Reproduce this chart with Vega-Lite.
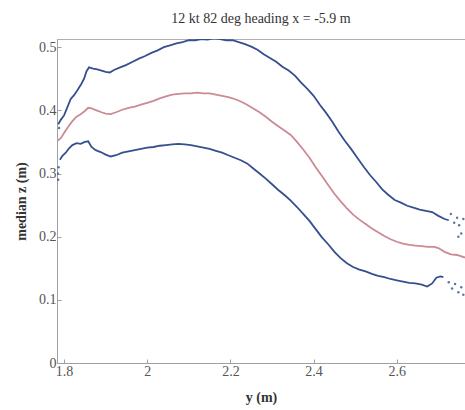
{
  "$schema": "https://vega.github.io/schema/vega-lite/v6.json",
  "autosize": {"type": "none"},
  "padding": {"left": 57, "top": 39, "right": 0, "bottom": 47},
  "width": 408,
  "height": 324,
  "background": "white",
  "config": {
    "view": {"stroke": "#b0b0b0", "strokeWidth": 1},
    "font": "Liberation Serif",
    "axis": {"grid": false, "domainColor": "#a0a0a0", "tickColor": "#a0a0a0", "tickSize": -4, "labelColor": "#555555", "labelFont": "Liberation Serif", "labelFontSize": 14, "titleFont": "Liberation Serif", "titleFontSize": 14, "titleFontWeight": "bold", "titleColor": "#333333"}
  },
  "title": {"text": "12 kt 82 deg heading x = -5.9 m", "font": "Liberation Serif", "fontSize": 14, "fontWeight": "normal", "color": "#333333", "offset": 13},
  "datasets": {
    "lines": [
      {"y": 1.786, "z": 0.378, "s": "upper"}, {"y": 1.792, "z": 0.385, "s": "upper"}, {"y": 1.8, "z": 0.392, "s": "upper"}, {"y": 1.808, "z": 0.405, "s": "upper"}, {"y": 1.816, "z": 0.418, "s": "upper"}, {"y": 1.824, "z": 0.424, "s": "upper"}, {"y": 1.832, "z": 0.432, "s": "upper"}, {"y": 1.84, "z": 0.44, "s": "upper"}, {"y": 1.848, "z": 0.45, "s": "upper"}, {"y": 1.854, "z": 0.462, "s": "upper"}, {"y": 1.86, "z": 0.468, "s": "upper"}, {"y": 1.87, "z": 0.466, "s": "upper"}, {"y": 1.88, "z": 0.465, "s": "upper"}, {"y": 1.89, "z": 0.463, "s": "upper"}, {"y": 1.9, "z": 0.461, "s": "upper"}, {"y": 1.91, "z": 0.46, "s": "upper"}, {"y": 1.92, "z": 0.464, "s": "upper"}, {"y": 1.935, "z": 0.468, "s": "upper"}, {"y": 1.95, "z": 0.472, "s": "upper"}, {"y": 1.965, "z": 0.477, "s": "upper"}, {"y": 1.98, "z": 0.482, "s": "upper"}, {"y": 1.995, "z": 0.486, "s": "upper"}, {"y": 2.01, "z": 0.491, "s": "upper"}, {"y": 2.025, "z": 0.495, "s": "upper"}, {"y": 2.04, "z": 0.5, "s": "upper"}, {"y": 2.055, "z": 0.503, "s": "upper"}, {"y": 2.07, "z": 0.506, "s": "upper"}, {"y": 2.085, "z": 0.508, "s": "upper"}, {"y": 2.1, "z": 0.511, "s": "upper"}, {"y": 2.115, "z": 0.511, "s": "upper"}, {"y": 2.13, "z": 0.513, "s": "upper"}, {"y": 2.145, "z": 0.512, "s": "upper"}, {"y": 2.16, "z": 0.514, "s": "upper"}, {"y": 2.175, "z": 0.513, "s": "upper"}, {"y": 2.19, "z": 0.511, "s": "upper"}, {"y": 2.205, "z": 0.511, "s": "upper"}, {"y": 2.22, "z": 0.508, "s": "upper"}, {"y": 2.235, "z": 0.505, "s": "upper"}, {"y": 2.25, "z": 0.501, "s": "upper"}, {"y": 2.265, "z": 0.496, "s": "upper"}, {"y": 2.28, "z": 0.489, "s": "upper"}, {"y": 2.295, "z": 0.483, "s": "upper"}, {"y": 2.31, "z": 0.477, "s": "upper"}, {"y": 2.325, "z": 0.469, "s": "upper"}, {"y": 2.34, "z": 0.463, "s": "upper"}, {"y": 2.355, "z": 0.455, "s": "upper"}, {"y": 2.37, "z": 0.444, "s": "upper"}, {"y": 2.385, "z": 0.434, "s": "upper"}, {"y": 2.4, "z": 0.423, "s": "upper"}, {"y": 2.415, "z": 0.409, "s": "upper"}, {"y": 2.43, "z": 0.396, "s": "upper"}, {"y": 2.445, "z": 0.382, "s": "upper"}, {"y": 2.46, "z": 0.366, "s": "upper"}, {"y": 2.475, "z": 0.352, "s": "upper"}, {"y": 2.49, "z": 0.339, "s": "upper"}, {"y": 2.505, "z": 0.325, "s": "upper"}, {"y": 2.52, "z": 0.311, "s": "upper"}, {"y": 2.535, "z": 0.298, "s": "upper"}, {"y": 2.55, "z": 0.287, "s": "upper"}, {"y": 2.565, "z": 0.275, "s": "upper"}, {"y": 2.58, "z": 0.266, "s": "upper"}, {"y": 2.595, "z": 0.258, "s": "upper"}, {"y": 2.61, "z": 0.254, "s": "upper"}, {"y": 2.625, "z": 0.249, "s": "upper"}, {"y": 2.64, "z": 0.246, "s": "upper"}, {"y": 2.655, "z": 0.243, "s": "upper"}, {"y": 2.67, "z": 0.241, "s": "upper"}, {"y": 2.685, "z": 0.239, "s": "upper"}, {"y": 2.7, "z": 0.233, "s": "upper"}, {"y": 2.715, "z": 0.228, "s": "upper"}, {"y": 2.725, "z": 0.226, "s": "upper"},

      {"y": 1.785, "z": 0.352, "s": "median"}, {"y": 1.792, "z": 0.356, "s": "median"}, {"y": 1.8, "z": 0.364, "s": "median"}, {"y": 1.81, "z": 0.374, "s": "median"}, {"y": 1.82, "z": 0.383, "s": "median"}, {"y": 1.83, "z": 0.39, "s": "median"}, {"y": 1.84, "z": 0.394, "s": "median"}, {"y": 1.85, "z": 0.399, "s": "median"}, {"y": 1.858, "z": 0.404, "s": "median"}, {"y": 1.866, "z": 0.403, "s": "median"}, {"y": 1.878, "z": 0.4, "s": "median"}, {"y": 1.89, "z": 0.397, "s": "median"}, {"y": 1.9, "z": 0.395, "s": "median"}, {"y": 1.912, "z": 0.394, "s": "median"}, {"y": 1.925, "z": 0.397, "s": "median"}, {"y": 1.94, "z": 0.401, "s": "median"}, {"y": 1.955, "z": 0.404, "s": "median"}, {"y": 1.97, "z": 0.406, "s": "median"}, {"y": 1.985, "z": 0.409, "s": "median"}, {"y": 2.0, "z": 0.412, "s": "median"}, {"y": 2.015, "z": 0.415, "s": "median"}, {"y": 2.03, "z": 0.419, "s": "median"}, {"y": 2.045, "z": 0.422, "s": "median"}, {"y": 2.06, "z": 0.425, "s": "median"}, {"y": 2.075, "z": 0.426, "s": "median"}, {"y": 2.09, "z": 0.427, "s": "median"}, {"y": 2.105, "z": 0.427, "s": "median"}, {"y": 2.12, "z": 0.428, "s": "median"}, {"y": 2.135, "z": 0.427, "s": "median"}, {"y": 2.15, "z": 0.427, "s": "median"}, {"y": 2.165, "z": 0.425, "s": "median"}, {"y": 2.18, "z": 0.423, "s": "median"}, {"y": 2.195, "z": 0.421, "s": "median"}, {"y": 2.21, "z": 0.418, "s": "median"}, {"y": 2.225, "z": 0.414, "s": "median"}, {"y": 2.24, "z": 0.409, "s": "median"}, {"y": 2.255, "z": 0.403, "s": "median"}, {"y": 2.27, "z": 0.397, "s": "median"}, {"y": 2.285, "z": 0.39, "s": "median"}, {"y": 2.3, "z": 0.382, "s": "median"}, {"y": 2.315, "z": 0.375, "s": "median"}, {"y": 2.33, "z": 0.368, "s": "median"}, {"y": 2.345, "z": 0.361, "s": "median"}, {"y": 2.36, "z": 0.35, "s": "median"}, {"y": 2.375, "z": 0.338, "s": "median"}, {"y": 2.39, "z": 0.325, "s": "median"}, {"y": 2.405, "z": 0.31, "s": "median"}, {"y": 2.42, "z": 0.296, "s": "median"}, {"y": 2.435, "z": 0.282, "s": "median"}, {"y": 2.45, "z": 0.268, "s": "median"}, {"y": 2.465, "z": 0.256, "s": "median"}, {"y": 2.48, "z": 0.245, "s": "median"}, {"y": 2.495, "z": 0.235, "s": "median"}, {"y": 2.51, "z": 0.227, "s": "median"}, {"y": 2.525, "z": 0.22, "s": "median"}, {"y": 2.54, "z": 0.213, "s": "median"}, {"y": 2.555, "z": 0.207, "s": "median"}, {"y": 2.57, "z": 0.201, "s": "median"}, {"y": 2.585, "z": 0.196, "s": "median"}, {"y": 2.6, "z": 0.192, "s": "median"}, {"y": 2.615, "z": 0.189, "s": "median"}, {"y": 2.63, "z": 0.187, "s": "median"}, {"y": 2.645, "z": 0.186, "s": "median"}, {"y": 2.66, "z": 0.185, "s": "median"}, {"y": 2.675, "z": 0.184, "s": "median"}, {"y": 2.69, "z": 0.184, "s": "median"}, {"y": 2.7, "z": 0.182, "s": "median"}, {"y": 2.715, "z": 0.176, "s": "median"}, {"y": 2.73, "z": 0.172, "s": "median"}, {"y": 2.745, "z": 0.171, "s": "median"}, {"y": 2.764, "z": 0.167, "s": "median"},

      {"y": 1.79, "z": 0.322, "s": "lower"}, {"y": 1.796, "z": 0.328, "s": "lower"}, {"y": 1.804, "z": 0.333, "s": "lower"}, {"y": 1.812, "z": 0.34, "s": "lower"}, {"y": 1.82, "z": 0.345, "s": "lower"}, {"y": 1.83, "z": 0.348, "s": "lower"}, {"y": 1.84, "z": 0.347, "s": "lower"}, {"y": 1.85, "z": 0.35, "s": "lower"}, {"y": 1.858, "z": 0.351, "s": "lower"}, {"y": 1.866, "z": 0.342, "s": "lower"}, {"y": 1.876, "z": 0.337, "s": "lower"}, {"y": 1.888, "z": 0.334, "s": "lower"}, {"y": 1.9, "z": 0.33, "s": "lower"}, {"y": 1.912, "z": 0.327, "s": "lower"}, {"y": 1.925, "z": 0.329, "s": "lower"}, {"y": 1.94, "z": 0.333, "s": "lower"}, {"y": 1.955, "z": 0.335, "s": "lower"}, {"y": 1.97, "z": 0.337, "s": "lower"}, {"y": 1.985, "z": 0.339, "s": "lower"}, {"y": 2.0, "z": 0.341, "s": "lower"}, {"y": 2.015, "z": 0.342, "s": "lower"}, {"y": 2.03, "z": 0.344, "s": "lower"}, {"y": 2.045, "z": 0.345, "s": "lower"}, {"y": 2.06, "z": 0.346, "s": "lower"}, {"y": 2.075, "z": 0.347, "s": "lower"}, {"y": 2.09, "z": 0.346, "s": "lower"}, {"y": 2.105, "z": 0.345, "s": "lower"}, {"y": 2.12, "z": 0.343, "s": "lower"}, {"y": 2.135, "z": 0.341, "s": "lower"}, {"y": 2.15, "z": 0.339, "s": "lower"}, {"y": 2.165, "z": 0.336, "s": "lower"}, {"y": 2.18, "z": 0.333, "s": "lower"}, {"y": 2.195, "z": 0.329, "s": "lower"}, {"y": 2.21, "z": 0.325, "s": "lower"}, {"y": 2.225, "z": 0.321, "s": "lower"}, {"y": 2.24, "z": 0.316, "s": "lower"}, {"y": 2.255, "z": 0.308, "s": "lower"}, {"y": 2.27, "z": 0.3, "s": "lower"}, {"y": 2.285, "z": 0.292, "s": "lower"}, {"y": 2.3, "z": 0.283, "s": "lower"}, {"y": 2.315, "z": 0.274, "s": "lower"}, {"y": 2.33, "z": 0.266, "s": "lower"}, {"y": 2.345, "z": 0.257, "s": "lower"}, {"y": 2.36, "z": 0.247, "s": "lower"}, {"y": 2.375, "z": 0.236, "s": "lower"}, {"y": 2.39, "z": 0.225, "s": "lower"}, {"y": 2.405, "z": 0.212, "s": "lower"}, {"y": 2.42, "z": 0.199, "s": "lower"}, {"y": 2.435, "z": 0.188, "s": "lower"}, {"y": 2.45, "z": 0.176, "s": "lower"}, {"y": 2.465, "z": 0.166, "s": "lower"}, {"y": 2.48, "z": 0.158, "s": "lower"}, {"y": 2.495, "z": 0.152, "s": "lower"}, {"y": 2.51, "z": 0.148, "s": "lower"}, {"y": 2.525, "z": 0.145, "s": "lower"}, {"y": 2.54, "z": 0.141, "s": "lower"}, {"y": 2.555, "z": 0.138, "s": "lower"}, {"y": 2.57, "z": 0.136, "s": "lower"}, {"y": 2.585, "z": 0.133, "s": "lower"}, {"y": 2.6, "z": 0.131, "s": "lower"}, {"y": 2.615, "z": 0.129, "s": "lower"}, {"y": 2.63, "z": 0.127, "s": "lower"}, {"y": 2.645, "z": 0.126, "s": "lower"}, {"y": 2.66, "z": 0.124, "s": "lower"}, {"y": 2.673, "z": 0.121, "s": "lower"}, {"y": 2.685, "z": 0.126, "s": "lower"}, {"y": 2.695, "z": 0.135, "s": "lower"}, {"y": 2.705, "z": 0.137, "s": "lower"}, {"y": 2.712, "z": 0.136, "s": "lower"}
    ],
    "dots": [
      {"y": 1.785, "z": 0.3}, {"y": 1.787, "z": 0.31}, {"y": 1.786, "z": 0.29}, {"y": 1.788, "z": 0.372},
      {"y": 2.73, "z": 0.236}, {"y": 2.738, "z": 0.222}, {"y": 2.745, "z": 0.23}, {"y": 2.75, "z": 0.218}, {"y": 2.755, "z": 0.205}, {"y": 2.76, "z": 0.228}, {"y": 2.748, "z": 0.2},
      {"y": 2.725, "z": 0.128}, {"y": 2.733, "z": 0.118}, {"y": 2.74, "z": 0.125}, {"y": 2.748, "z": 0.112}, {"y": 2.755, "z": 0.12}, {"y": 2.76, "z": 0.108}
    ]
  },
  "layer": [
    {
      "data": {"name": "lines"},
      "mark": {"type": "line", "strokeWidth": 1.8, "clip": true},
      "encoding": {
        "x": {"field": "y", "type": "quantitative", "scale": {"domain": [1.783, 2.764], "nice": false, "zero": false}, "axis": {"values": [1.8, 2, 2.2, 2.4, 2.6], "format": "~g", "title": "y (m)", "titlePadding": 12, "labelPadding": 5}},
        "y": {"field": "z", "type": "quantitative", "scale": {"domain": [0, 0.513], "nice": false}, "axis": {"values": [0, 0.1, 0.2, 0.3, 0.4, 0.5], "format": "~g", "title": "median z (m)", "titlePadding": 10, "labelPadding": 5}},
        "detail": {"field": "s"},
        "color": {"field": "s", "type": "nominal", "scale": {"domain": ["upper", "median", "lower"], "range": ["#34508f", "#cc8a93", "#34508f"]}, "legend": null}
      }
    },
    {
      "data": {"name": "dots"},
      "mark": {"type": "circle", "size": 6, "color": "#34508f", "opacity": 0.8, "clip": true},
      "encoding": {
        "x": {"field": "y", "type": "quantitative"},
        "y": {"field": "z", "type": "quantitative"}
      }
    }
  ]
}
